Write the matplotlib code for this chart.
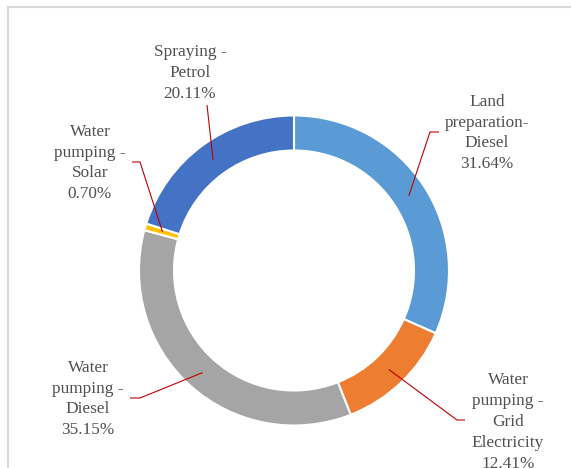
import numpy as np
import matplotlib.pyplot as plt
from matplotlib.lines import Line2D

# shares of energy use, clockwise from 12 o'clock
labels = ["Land\npreparation-\nDiesel", "Water\npumping -\nGrid\nElectricity",
          "Water\npumping -\nDiesel", "Water\npumping -\nSolar", "Spraying -\nPetrol"]
shares = [31.64, 12.41, 35.15, 0.70, 20.11]
colors = ['#5B9BD5', '#ED7D31', '#A5A5A5', '#FFC000', '#4472C4']

W, H = 571, 468
fig = plt.figure(figsize=(W / 100, H / 100), dpi=100)
ax = fig.add_axes([0, 0, 1, 1])

cx, cy, R = 294, 270.5, 155
wedges, _ = ax.pie(shares, colors=colors, radius=R, center=(cx, cy),
                   startangle=-90, counterclock=True, frame=True,
                   wedgeprops=dict(width=35, edgecolor='white', linewidth=1.5))
ax.set_xlim(0, W)
ax.set_ylim(H, 0)  # pixel-like coordinates, y down
ax.axis('off')

# label layout: text centre, then leader-line points (end, elbow)
text_pos = [(487, 133), (508, 422), (88, 399), (90, 163), (190, 73)]
leaders = [[(439, 132), (430, 132)],
           [(465, 420), (457, 420)],
           [(130, 398), (140, 398)],
           [(132, 162), (140, 162)],
           [(207, 105)]]

line_col = '#C00000'
for w, lab, val, (tx, ty), pts in zip(wedges, labels, shares, text_pos, leaders):
    mid = np.deg2rad((w.theta1 + w.theta2) / 2)
    ax_pt = (cx + 137 * np.cos(mid), cy + 137 * np.sin(mid))
    xs = [p[0] for p in pts] + [ax_pt[0]]
    ys = [p[1] for p in pts] + [ax_pt[1]]
    ax.plot(xs, ys, color=line_col, lw=0.8, solid_capstyle='butt')
    ax.text(tx, ty, f"{lab}\n{val:.2f}%", ha='center', va='center',
            fontsize=12.4, family='Liberation Serif', color='#505050',
            linespacing=1.4)

# chart-area border (top and left edges visible)
fig.add_artist(Line2D([8 / W, 1.0], [1 - 7 / H, 1 - 7 / H], color='#D9D9D9',
                      lw=1.5, transform=fig.transFigure))
fig.add_artist(Line2D([8 / W, 8 / W], [1 - 7 / H, 0], color='#D9D9D9',
                      lw=1.5, transform=fig.transFigure))

fig.savefig('out.png', dpi=100)
